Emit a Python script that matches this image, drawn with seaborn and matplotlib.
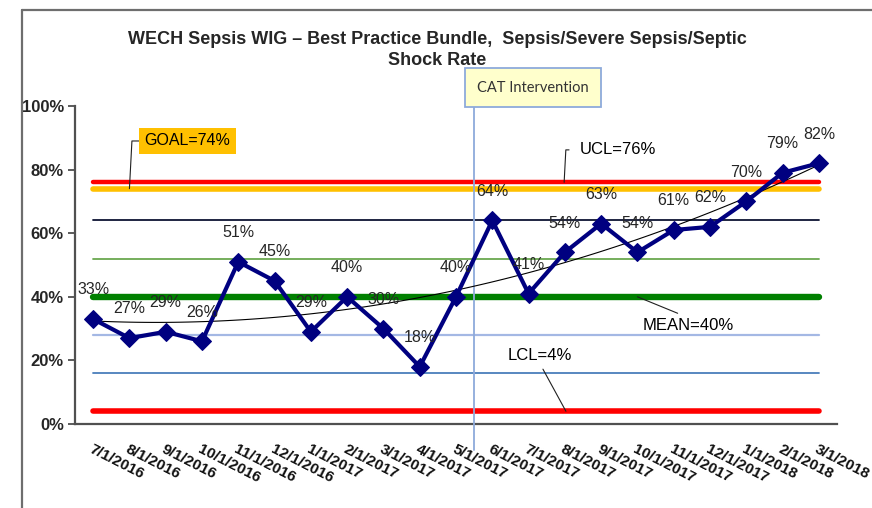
import matplotlib
matplotlib.use('Agg')
import matplotlib.pyplot as plt
from matplotlib import font_manager
from matplotlib.lines import Line2D
import pandas as pd
import seaborn as sns

# Monthly compliance rate (%)
months = ['7/1/2016', '8/1/2016', '9/1/2016', '10/1/2016', '11/1/2016', '12/1/2016',
          '1/1/2017', '2/1/2017', '3/1/2017', '4/1/2017', '5/1/2017', '6/1/2017',
          '7/1/2017', '8/1/2017', '9/1/2017', '10/1/2017', '11/1/2017', '12/1/2017',
          '1/1/2018', '2/1/2018', '3/1/2018']
rates = [33, 27, 29, 26, 51, 45, 29, 40, 30, 18, 40, 64, 41, 54, 63, 54, 61, 62, 70, 79, 82]

# Control chart limits (%)
ucl = 76
goal = 74
plus_2sd = 64
plus_1sd = 52
mean = 40
minus_1sd = 28
minus_2sd = 16
lcl = 4
intervention_after = '5/1/2017'

names = {f.name for f in font_manager.fontManager.ttflist}
narrow = 'Liberation Sans Narrow' if 'Liberation Sans Narrow' in names else 'Liberation Sans'

sns.set_style('white')
plt.rcParams['font.family'] = [narrow, 'DejaVu Sans']

df = pd.DataFrame({'month': months, 'rate': rates})
df['pos'] = range(len(df))

fig = plt.figure(figsize=(8.72, 5.08), dpi=100)
ax = fig.add_axes([75 / 872, 1 - 424 / 508, 762 / 872, 318 / 508])

# control / goal lines, drawn between first and last month
first, last = df['pos'].iloc[0], df['pos'].iloc[-1]
line_specs = [
    (goal, '#ffc000', 4.0),
    (ucl, '#ff0000', 3.2),
    (plus_2sd, '#0d1433', 1.3),
    (plus_1sd, '#6aa84f', 1.3),
    (mean, '#008000', 4.6),
    (minus_1sd, '#a4b8e4', 1.6),
    (minus_2sd, '#4a7ebb', 1.3),
    (lcl, '#ff0000', 4.0),
]
for level, col, lw in line_specs:
    ax.plot([first, last], [level, level], color=col, lw=lw, zorder=2,
            solid_capstyle='round')

# polynomial trend
sns.regplot(data=df, x='pos', y='rate', order=2, ci=None, scatter=False, ax=ax,
            color='black', line_kws={'lw': 0.8, 'zorder': 4})

sns.lineplot(data=df, x='pos', y='rate', ax=ax, color='#000080', lw=3,
             marker='D', markersize=9, markeredgecolor='#000080', zorder=5)

for p, v in zip(df['pos'], df['rate']):
    ax.annotate(f'{v}%', (p, v), xytext=(0, 21), textcoords='offset points',
                ha='center', va='center', fontsize=11.5, color='#262626', zorder=6)

# intervention marker
cat_x = months.index(intervention_after) + 0.5
ax.axvline(cat_x, ymin=-0.082, ymax=1.0, color='#8eaadb', lw=1.3, clip_on=False, zorder=3)
ax.text(12.12, 105.8, 'CAT Intervention', ha='center', va='center', fontsize=10.5,
        family=['Lato', 'DejaVu Sans'], color='#333333', clip_on=False, zorder=7,
        bbox=dict(boxstyle='square,pad=0.85', fc='#ffffcc', ec='#8eaadb', lw=1.3))

# callouts
leader = dict(arrowstyle='-', color='#202020', lw=0.8)
ax.annotate('GOAL=74%', xy=(1.0, goal), xytext=(2.6, 89), ha='center', va='center',
            fontsize=11.5, color='black', annotation_clip=False,
            bbox=dict(boxstyle='square,pad=0.35', fc='#ffc000', ec='none'),
            arrowprops=dict(leader, connectionstyle='angle,angleA=0,angleB=87,rad=0',
                            relpos=(0, 0.5), shrinkA=0, shrinkB=0))
ax.annotate('UCL=76%', xy=(12.98, ucl), xytext=(14.45, 86.2), ha='center', va='center',
            fontsize=12, color='black',
            arrowprops=dict(leader, connectionstyle='angle,angleA=0,angleB=87,rad=0',
                            relpos=(0, 0.5), shrinkA=5, shrinkB=0))
ax.annotate('MEAN=40%', xy=(15.0, mean), xytext=(16.4, 31.1), ha='center', va='center',
            fontsize=12, color='black',
            arrowprops=dict(leader, relpos=(0.5, 1), shrinkA=2, shrinkB=0))
ax.annotate('LCL=4%', xy=(13.03, lcl), xytext=(12.31, 21.4), ha='center', va='center',
            fontsize=12, color='black',
            arrowprops=dict(leader, relpos=(0.5, 0), shrinkA=2, shrinkB=0))

# axes
ax.set_xlim(-0.5, len(months) - 0.5)
ax.set_ylim(0, 100)
ax.set_yticks(range(0, 101, 20))
ax.set_yticklabels([f'{t}%' for t in range(0, 101, 20)], fontsize=12, fontweight='bold',
                   color='#262626')
ax.set_xticks(df['pos'])
ax.set_xticklabels(months, rotation=-27, ha='left', va='top', rotation_mode='anchor',
                   fontsize=11, fontweight='bold', color='#111111')
ax.set_xticks([p + 0.5 for p in range(-1, len(months))], minor=True)
ax.tick_params(axis='x', which='major', length=0, pad=13)
ax.tick_params(axis='x', which='minor', length=5, width=1.2, color='#404040', direction='out')
ax.tick_params(axis='y', length=5, width=1.2, color='#404040', direction='out', pad=3,
               left=True)
ax.set_xlabel('')
ax.set_ylabel('')
for s in ['top', 'right']:
    ax.spines[s].set_visible(False)
for s in ['left', 'bottom']:
    ax.spines[s].set_color('#505050')
    ax.spines[s].set_linewidth(1.6)

fig.text(437.5 / 872, 1 - 50 / 508,
         'WECH Sepsis WIG \u2013 Best Practice Bundle,  Sepsis/Severe Sepsis/Septic\nShock Rate',
         ha='center', va='center', fontsize=13, fontweight='bold', linespacing=1.33)

# slide frame
fig.add_artist(Line2D([22 / 872, 1], [1 - 10 / 508, 1 - 10 / 508], color='#6e6e6e', lw=1.6))
fig.add_artist(Line2D([22 / 872, 22 / 872], [0, 1 - 10 / 508], color='#6e6e6e', lw=1.6))

fig.savefig('out.png', dpi=100)
